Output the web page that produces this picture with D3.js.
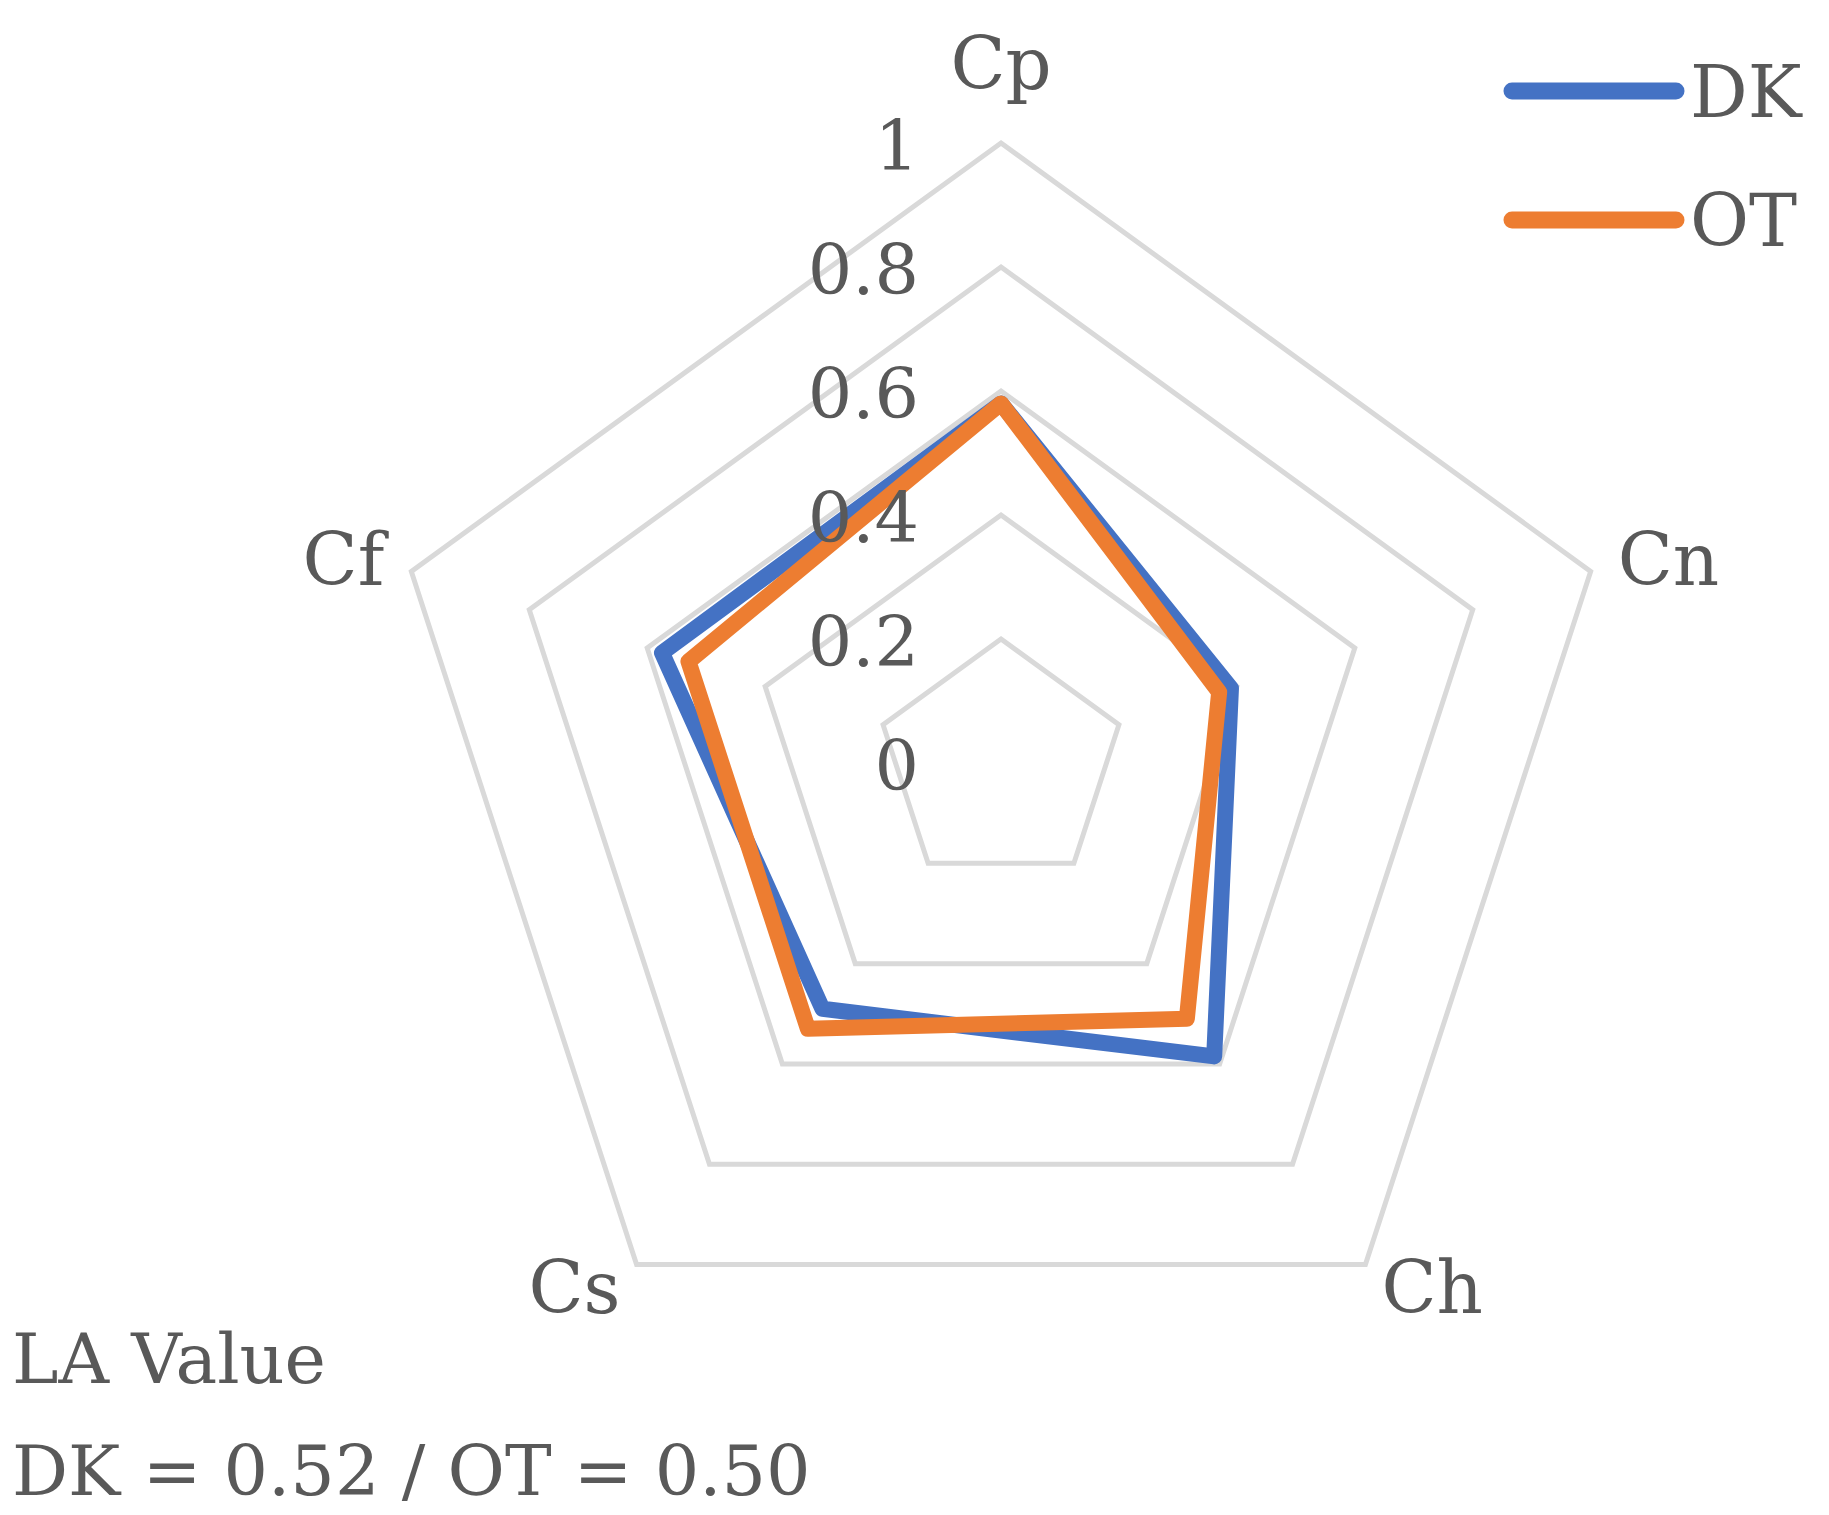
<!DOCTYPE html>
<html>
<head>
<meta charset="utf-8">
<script src="https://cdn.jsdelivr.net/npm/d3@7"></script>
<style>
	body { margin: 0; background: #fff; }
	text { font-family: "DejaVu Serif", serif; fill: #595959; }
</style>
</head>
<body>
<svg id="chart" width="1829" height="1515"></svg>
<script>
// Data
var axes = [ 'Cp', 'Cn', 'Ch', 'Cs', 'Cf' ];
var dkValues = [ 0.58, 0.39, 0.585, 0.49, 0.575 ];
var otValues = [ 0.58, 0.37, 0.51, 0.53, 0.53 ];
var ticks = [ 0, 0.2, 0.4, 0.6, 0.8, 1 ];
var tickLabels = [ '0', '0.2', '0.4', '0.6', '0.8', '1' ];
var seriesNames = [ 'DK', 'OT' ];
var seriesColors = [ '#4472c4', '#ed7d31' ];

var svg = d3.select( '#chart' );
var cx = 1001, cy = 763, R = 620;

var r = d3.scaleLinear().domain( [ 0, 1 ] ).range( [ 0, R ] );
var angle = d3.scalePoint().domain( axes ).range( [ 0, 2 * Math.PI * 4 / 5 ] );

function pt( axis, v ) {
	var a = angle( axis );
	return [ cx + r( v ) * Math.sin( a ), cy - r( v ) * Math.cos( a ) ];
}

var line = d3.line();

// Grid rings
svg.selectAll( 'path.ring' )
	.data( ticks )
	.enter()
	.append( 'path' )
	.attr( 'd', function ( t ) {
		return line( axes.map( function ( a ) { return pt( a, t ); } ) ) + 'Z';
	} )
	.attr( 'fill', 'none' )
	.attr( 'stroke', '#d9d9d9' )
	.attr( 'stroke-width', 5 );

// Series
[ dkValues, otValues ].forEach( function ( vals, i ) {
	svg.append( 'path' )
		.attr( 'd', line( axes.map( function ( a, j ) { return pt( a, vals[j] ); } ) ) + 'Z' )
		.attr( 'fill', 'none' )
		.attr( 'stroke', seriesColors[i] )
		.attr( 'stroke-width', 16 )
		.attr( 'stroke-linejoin', 'round' );
} );

// Tick labels
svg.selectAll( 'text.tick' )
	.data( ticks )
	.enter()
	.append( 'text' )
	.attr( 'x', cx - 82 )
	.attr( 'y', function ( t ) { return cy - r( t ) + 27; } )
	.attr( 'text-anchor', 'end' )
	.style( 'font-size', '70px' )
	.text( function ( t, i ) { return tickLabels[i]; } );

// Axis labels
var labelOffsets = [ [ 0, -54, 'middle' ], [ 27, 14, 'start' ], [ 16, 48, 'start' ], [ -16, 48, 'end' ], [ -27, 14, 'end' ] ];
svg.selectAll( 'text.axis' )
	.data( axes )
	.enter()
	.append( 'text' )
	.attr( 'x', function ( a, i ) { return pt( a, 1 )[0] + labelOffsets[i][0]; } )
	.attr( 'y', function ( a, i ) { return pt( a, 1 )[1] + labelOffsets[i][1]; } )
	.attr( 'text-anchor', function ( a, i ) { return labelOffsets[i][2]; } )
	.style( 'font-size', '72px' )
	.text( function ( a ) { return a; } );

// Legend
seriesNames.forEach( function ( name, i ) {
	var y = 91 + i * 129;
	svg.append( 'line' )
		.attr( 'x1', 1512 ).attr( 'x2', 1676 )
		.attr( 'y1', y ).attr( 'y2', y )
		.attr( 'stroke', seriesColors[i] )
		.attr( 'stroke-width', 17 )
		.attr( 'stroke-linecap', 'round' );
	svg.append( 'text' )
		.attr( 'x', 1690 ).attr( 'y', y + 26 )
		.style( 'font-size', '72px' )
		.text( name );
} );

// Note
svg.append( 'text' ).attr( 'x', 12 ).attr( 'y', 1383 ).style( 'font-size', '70px' ).text( 'LA Value' );
svg.append( 'text' ).attr( 'x', 12 ).attr( 'y', 1495 ).style( 'font-size', '70px' ).text( 'DK = 0.52 / OT = 0.50' );
</script>
</body>
</html>
